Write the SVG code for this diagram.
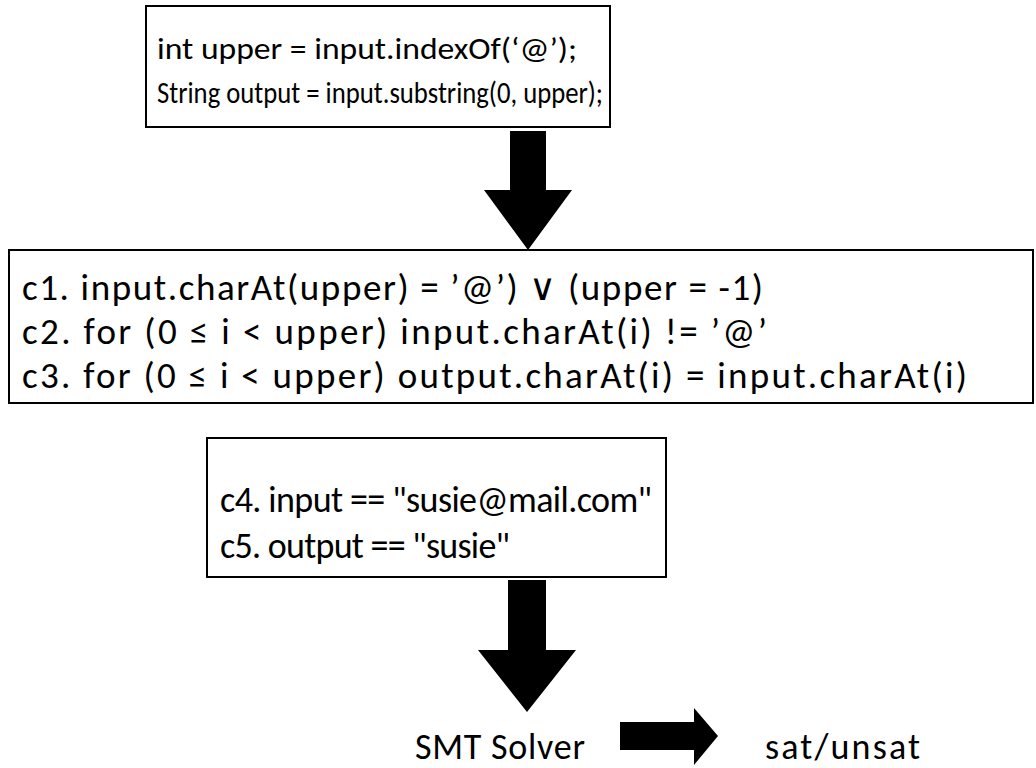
<svg xmlns="http://www.w3.org/2000/svg" width="1036" height="768" viewBox="0 0 1036 768">
  <style>
    .box { fill: #ffffff; stroke: #000000; stroke-width: 2; }
    .t { font-family: Carlito, Lato, "Liberation Sans", sans-serif; fill: #000000; }
    .code { font-size: 30px; }
    .cons { font-size: 37px; }
    .big { font-size: 36px; }
    .arrow { fill: #000000; stroke: none; }
  </style>
  <rect width="1036" height="768" fill="#ffffff"/>

  <!-- source code -->
  <g id="code">
    <rect class="box" x="146" y="6" width="464" height="121"/>
    <text class="t code" x="157" y="59" textLength="420" lengthAdjust="spacingAndGlyphs">int upper = input.indexOf(‘@’);</text>
    <text class="t code" x="157" y="103" textLength="446" lengthAdjust="spacingAndGlyphs">String output = input.substring(0, upper);</text>
  </g>

  <!-- derived constraints -->
  <g id="constraints">
    <rect class="box" x="9" y="250" width="1024" height="153"/>
    <text class="t cons" x="22" y="300" textLength="741" lengthAdjust="spacing">c1. input.charAt(upper) = ’@’) ∨ (upper = -1)</text>
    <text class="t cons" x="22" y="344" textLength="745" lengthAdjust="spacing">c2. for (0 ≤ i &lt; upper) input.charAt(i) != ’@’</text>
    <text class="t cons" x="22" y="388" textLength="945" lengthAdjust="spacing">c3. for (0 ≤ i &lt; upper) output.charAt(i) = input.charAt(i)</text>
  </g>

  <!-- concrete values -->
  <g id="values">
    <rect class="box" x="207" y="438" width="459" height="139"/>
    <text class="t big" x="220" y="512" textLength="432" lengthAdjust="spacing">c4. input == "susie@mail.com"</text>
    <text class="t big" x="220" y="558" textLength="290" lengthAdjust="spacing">c5. output == "susie"</text>
  </g>

  <g id="solver">
    <text class="t big" x="415" y="759" textLength="170" lengthAdjust="spacing">SMT Solver</text>
  </g>

  <g id="result">
    <text class="t big" x="765" y="759" textLength="155" lengthAdjust="spacing">sat/unsat</text>
  </g>

  <!-- block arrows -->
  <g id="connectors">
    <polygon class="arrow" points="510,131 546,131 546,190 572,190 528,250 484,190 510,190"/>
    <polygon class="arrow" points="508,580 546,580 546,650 576,650 527,712 478,650 508,650"/>
    <polygon class="arrow" points="620,722 694,722 694,708 718,736 694,765 694,750 620,750"/>
  </g>
</svg>
